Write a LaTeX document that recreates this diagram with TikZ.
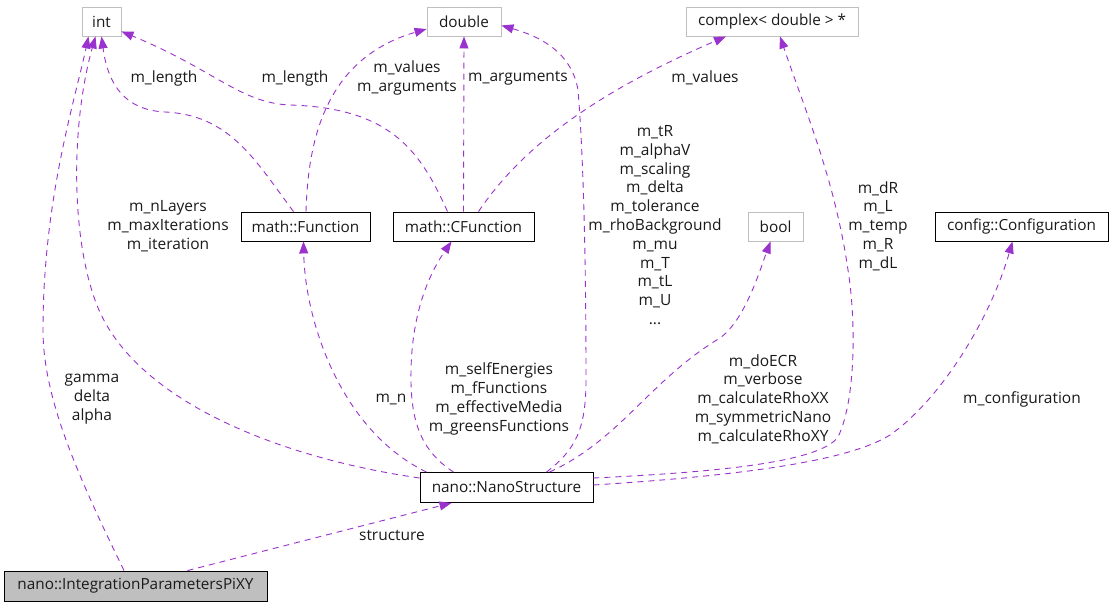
\documentclass[tikz,border=0pt]{standalone}
\usepackage{fontspec}
\setmainfont{Open Sans}
\usetikzlibrary{arrows.meta}
\definecolor{edgec}{HTML}{9A32CD}
\definecolor{grayb}{HTML}{BFBFBF}
\definecolor{txt}{HTML}{1A1A1A}
\begin{document}
\begin{tikzpicture}[x=1pt,y=-1pt,
  every node/.style={text=txt},
  boxbase/.style={rectangle, minimum height=29pt, inner xsep=1pt, inner ysep=0pt, font=\fontsize{15.3}{17}\selectfont, line width=0.9pt},
  gbox/.style={boxbase, draw=grayb},
  kbox/.style={boxbase, draw=black},
  e/.style={draw=edgec, line width=0.9pt, dash pattern=on 6pt off 5pt, -{Triangle[length=12pt,width=9pt]}},
  lbl/.style={align=center, inner sep=0pt, font=\fontsize{15.5}{18.8}\selectfont}
]
\fill[white] (0,0) rectangle (1112,608);
\path[use as bounding box] (0,0) rectangle (1112,608);

% nodes
\node[gbox, minimum width=39pt] (int) at (101.5,21.5) {int};
\node[gbox, minimum width=74pt] (dbl) at (464,21.5) {double};
\node[gbox, minimum width=172pt] (cx) at (772,21.5) {complex< double > *};
\node[kbox, minimum width=129pt] (fn) at (305.5,226.5) {math::Function};
\node[kbox, minimum width=141pt] (cf) at (463.5,226.5) {math::CFunction};
\node[gbox, minimum width=55pt] (bool) at (775.5,226.5) {bool};
\node[kbox, minimum width=173pt] (cfg) at (1021.5,226.5) {config::Configuration};
\node[kbox, minimum width=173pt, minimum height=30pt] (nano) at (506.5,487.5) {nano::NanoStructure};
\node[kbox, fill=grayb, minimum width=263pt, minimum height=30pt] (ip) at (135.5,586) {nano::IntegrationParametersPiXY};

% edges
\draw[e] ([xshift=-11.5pt]ip.north) .. controls (80,480) and (43,400) .. (43,330)
  .. controls (43,200) and (75,100) .. ([xshift=-13pt]int.south);
\draw[e] ([yshift=9.5pt]nano.west) .. controls (280,458) and (130,400) .. (95,300)
  .. controls (70,230) and (72,120) .. ([xshift=-6pt]int.south);
\draw[e] ([xshift=-12pt]fn.north) .. controls (255,160) and (230,115) .. (165,112)
  .. controls (125,110) and (108,85) .. (int.south);
\draw[e] ([xshift=-16pt]cf.north) .. controls (420,150) and (390,108) .. (290,105)
  .. controls (240,103) and (215,70) .. ([yshift=5pt]int.south east);
\draw[e] ([xshift=0.5pt]fn.north) .. controls (308,150) and (320,60) .. ([yshift=-7.5pt]dbl.west);
\draw[e] (cf.north) -- (dbl.south);
\draw[e] ([xshift=40pt]nano.north) .. controls (575,450) and (586,430) .. (586,380)
  .. controls (586,250) and (583,150) .. (578,90)
  .. controls (572,55) and (545,38) .. ([yshift=-4pt]dbl.east);
\draw[e] ([xshift=15pt]cf.north) .. controls (520,150) and (590,95) .. ([xshift=-46pt]cx.south);
\draw[e] ([yshift=9.5pt]nano.east) .. controls (720,472) and (820,462) .. (838,437)
  .. controls (856,400) and (856,320) .. (848,270)
  .. controls (835,180) and (805,110) .. ([xshift=8pt]cx.south);
\draw[e] ([xshift=-80pt]nano.north) .. controls (340,430) and (305,320) .. ([xshift=-2pt]fn.south);
\draw[e] ([xshift=-53pt]nano.north) .. controls (420,450) and (410,420) .. (411,370)
  .. controls (412,320) and (425,280) .. ([xshift=-12pt]cf.south);
\draw[e] ([xshift=43pt]nano.north) .. controls (620,440) and (650,380) .. (720,338)
  .. controls (745,320) and (760,270) .. ([xshift=-5pt]bool.south);
\draw[e] ([yshift=2.5pt]nano.east) .. controls (750,475) and (850,460) .. (890,435)
  .. controls (940,400) and (990,320) .. ([xshift=-9pt]cfg.south);
\draw[e] ([xshift=52pt]ip.north) -- ([xshift=-55pt]nano.south);

% labels
\node[lbl] (l1) at (92,399) {gamma\\delta\\alpha};
\node[lbl] (l2) at (168,226) {m\_nLayers\\m\_maxIterations\\m\_iteration};
\node[lbl] (l3) at (164,78) {m\_length};
\node[lbl] (l4) at (295,78) {m\_length};
\node[lbl] (l5) at (407,78) {m\_values\\m\_arguments};
\node[lbl] (l6) at (518,78) {m\_arguments};
\node[lbl] (l7) at (655,225) {m\_tR\\m\_alphaV\\m\_scaling\\m\_delta\\m\_tolerance\\m\_rhoBackground\\m\_mu\\m\_T\\m\_tL\\m\_U\\...};
\node[lbl] (l8) at (705,78) {m\_values};
\node[lbl] (l9) at (878,226) {m\_dR\\m\_L\\m\_temp\\m\_R\\m\_dL};
\node[lbl] (l10) at (391,399) {m\_n};
\node[lbl] (l11) at (499,399) {m\_selfEnergies\\m\_fFunctions\\m\_effectiveMedia\\m\_greensFunctions};
\node[lbl] (l12) at (763,399) {m\_doECR\\m\_verbose\\m\_calculateRhoXX\\m\_symmetricNano\\m\_calculateRhoXY};
\node[lbl] (l13) at (1022,399) {m\_configuration};
\node[lbl] (l14) at (392,535) {structure};
\end{tikzpicture}
\end{document}
